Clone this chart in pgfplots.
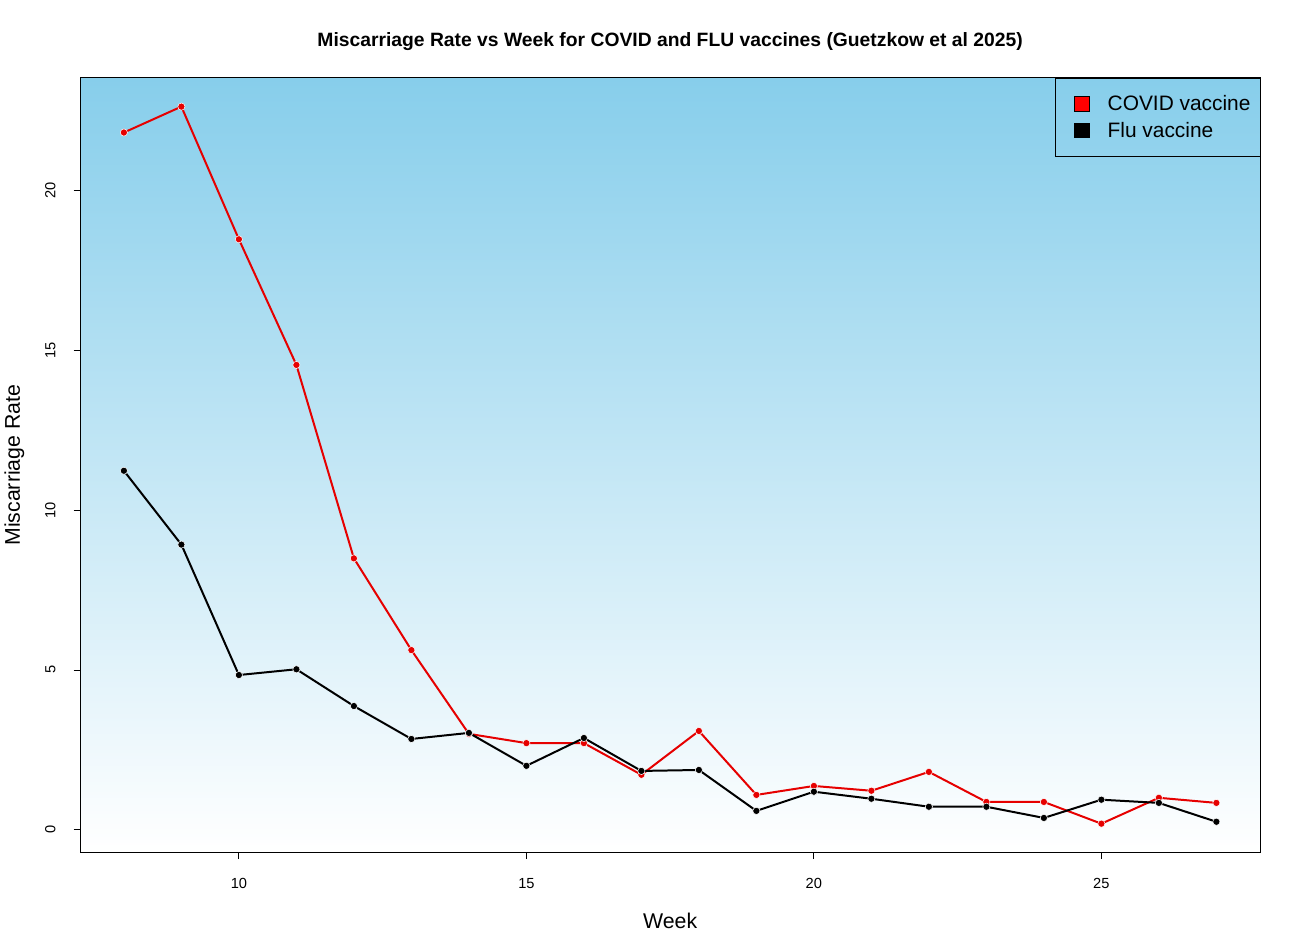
\documentclass[border=0pt]{standalone}
\usepackage{pgfplots}
\pgfplotsset{compat=1.18}
\usepackage{fontspec}
\setmainfont{Liberation Sans}
\definecolor{skyb}{RGB}{135,206,235}
\definecolor{rred}{RGB}{230,0,0}
\begin{document}
\begin{tikzpicture}
\begin{axis}[
  at={(0,0)}, anchor=south west,
  scale only axis, width=886.5pt, height=582pt,
  xmin=7.24, xmax=27.76, ymin=-0.71, ymax=23.52,
  xtick={10,15,20,25}, ytick={0,5,10,15,20},
  tick pos=left, tick align=outside, major tick length=5pt,
  tick style={black, line width=0.6pt},
  axis line style={black, line width=0.6pt},
  /pgf/number format/assume math mode=true,
  ticklabel style={font=\fontsize{11}{13}\selectfont},
  yticklabel style={rotate=90, anchor=south, xshift=0pt, yshift=10pt},
  xticklabel style={yshift=-11pt},
  axis background/.style={top color=skyb, bottom color=white},
  title={\bfseries Miscarriage Rate vs Week for COVID and FLU vaccines (Guetzkow et al 2025)},
  title style={at={(axis description cs:0.5,1.036)}, anchor=center, font=\fontsize{14.5}{17}\selectfont},
  xlabel={Week}, ylabel={Miscarriage Rate},
  label style={font=\fontsize{16}{19}\selectfont},
  xlabel style={at={(axis description cs:0.5,-0.088)}, anchor=center},
  ylabel style={at={(axis description cs:-0.0558,0.5)}, anchor=center},
  legend style={at={(1,1)}, anchor=north east, draw=black, fill=none,
    font=\fontsize{15.7}{19}\selectfont, cells={anchor=west},
    inner xsep=5pt, inner ysep=11pt, row sep=3pt},
]
\addplot[rred, line width=1.5pt, mark=*, mark size=2.7pt,
  mark options={fill=rred, draw=white, line width=0.4pt},
  legend image code/.code={\path[draw=none] (-9.25pt,0pt) -- (23pt,0pt);\draw[black, fill=red, line width=0.5pt] (0pt,-5.5pt) rectangle (11pt,5.5pt);}]
coordinates {
(8,21.81) (9,22.62) (10,18.47) (11,14.54) (12,8.49) (13,5.62) (14,3.00) (15,2.71) (16,2.71) (17,1.72)
(18,3.09) (19,1.09) (20,1.37) (21,1.22) (22,1.81) (23,0.87) (24,0.87) (25,0.19) (26,1.00) (27,0.84)};
\addlegendentry{COVID vaccine}
\addplot[black, line width=1.5pt, mark=*, mark size=2.7pt,
  mark options={fill=black, draw=white, line width=0.4pt},
  legend image code/.code={\path[draw=none] (-9.25pt,0pt) -- (23pt,0pt);\draw[black, fill=black, line width=0.5pt] (0pt,-5.5pt) rectangle (11pt,5.5pt);}]
coordinates {
(8,11.23) (9,8.92) (10,4.84) (11,5.02) (12,3.87) (13,2.84) (14,3.03) (15,2.00) (16,2.87) (17,1.84)
(18,1.87) (19,0.59) (20,1.19) (21,0.97) (22,0.72) (23,0.72) (24,0.37) (25,0.94) (26,0.84) (27,0.25)};
\addlegendentry{Flu vaccine}
\end{axis}
\path (-58.5pt,-73.5pt) rectangle (917.25pt,640.5pt);
\end{tikzpicture}
\end{document}
